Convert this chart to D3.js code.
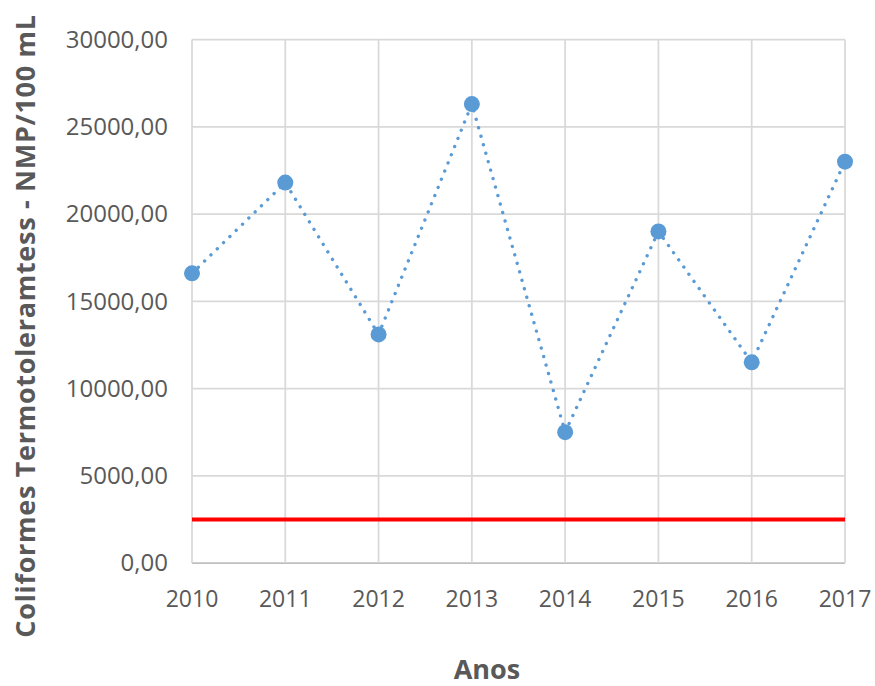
<!DOCTYPE html>
<html><head><meta charset="utf-8">
<script src="https://cdn.jsdelivr.net/npm/d3@7"></script>
<style>body{margin:0;background:#fff}svg{display:block}</style>
</head><body>
<svg id="c" width="875" height="686"></svg>
<script>
const years = ["2010","2011","2012","2013","2014","2015","2016","2017"];
const values = [16600, 21800, 13100, 26300, 7500, 19000, 11500, 23000];
const limitValue = 2500;
const yTicks = [0, 5000, 10000, 15000, 20000, 25000, 30000];
const yTitle = "Coliformes Termotoleramtess - NMP/100 mL";
const xTitle = "Anos";

const svg = d3.select("#c");
const L = 192, R = 845, T = 39.5, B = 563;
const x = d3.scalePoint().domain(years).range([L, R]);
const y = d3.scaleLinear().domain([0, 30000]).range([B, T]);
const fmt = v => d3.format(".2f")(v).replace(".", ",");
const font = "'Open Sans', sans-serif";

// horizontal gridlines
svg.append("g").selectAll("line").data(yTicks).join("line")
  .attr("x1", L).attr("x2", R).attr("y1", d => y(d)).attr("y2", d => y(d))
  .attr("stroke", d => d === 0 ? "#bfbfbf" : "#d9d9d9").attr("stroke-width", 1.75);
// vertical gridlines
svg.append("g").selectAll("line").data(years).join("line")
  .attr("x1", d => x(d)).attr("x2", d => x(d)).attr("y1", T).attr("y2", B)
  .attr("stroke", "#d9d9d9").attr("stroke-width", 1.75);

// y tick labels
svg.append("g").selectAll("text").data(yTicks).join("text")
  .attr("x", 168).attr("y", d => y(d)).attr("dy", "0.35em")
  .attr("text-anchor", "end").attr("font-family", font).attr("font-size", 24)
  .attr("fill", "#595959").text(fmt);
// x tick labels
svg.append("g").selectAll("text").data(years).join("text")
  .attr("x", d => x(d)).attr("y", 607)
  .attr("text-anchor", "middle").attr("font-family", font).attr("font-size", 23)
  .attr("fill", "#595959").text(d => d);

// limit line
svg.append("line").attr("x1", L).attr("x2", R)
  .attr("y1", y(limitValue)).attr("y2", y(limitValue))
  .attr("stroke", "#ff0000").attr("stroke-width", 4);

// data line
const pts = years.map((yr, i) => [x(yr), y(values[i])]);
svg.append("path").attr("d", d3.line()(pts))
  .attr("fill", "none").attr("stroke", "#5b9bd5").attr("stroke-width", 3.4)
  .attr("stroke-linecap", "round").attr("stroke-dasharray", "0.01 8.8");
svg.append("g").selectAll("circle").data(pts).join("circle")
  .attr("cx", d => d[0]).attr("cy", d => d[1]).attr("r", 8)
  .attr("fill", "#5b9bd5");

// titles
svg.append("text").attr("x", 487).attr("y", 679).attr("text-anchor", "middle")
  .attr("font-family", font).attr("font-weight", "bold").attr("font-size", 27)
  .attr("fill", "#595959").text(xTitle);
svg.append("text").attr("transform", "translate(35,326) rotate(-90)")
  .attr("text-anchor", "middle").attr("letter-spacing", 0.7)
  .attr("font-family", font).attr("font-weight", "bold").attr("font-size", 27)
  .attr("fill", "#595959").text(yTitle);
</script>
</body></html>
